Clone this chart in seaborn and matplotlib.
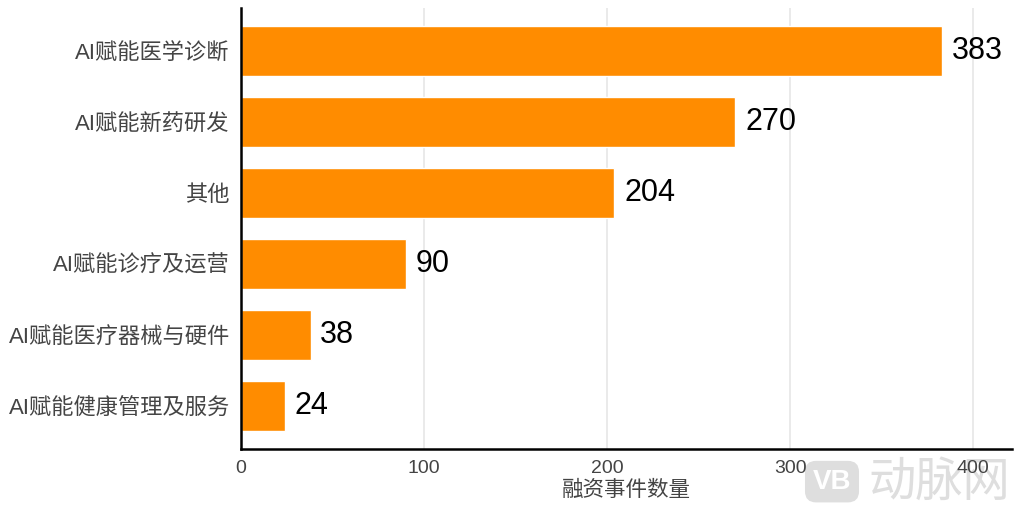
import matplotlib
matplotlib.use("Agg")
import matplotlib.pyplot as plt
import seaborn as sns
import pandas as pd

# data
categories = ["AI赋能医学诊断", "AI赋能新药研发", "其他", "AI赋能诊疗及运营",
              "AI赋能医疗器械与硬件", "AI赋能健康管理及服务"]
counts = [383, 270, 204, 90, 38, 24]
xticks = [0, 100, 200, 300, 400]

df = pd.DataFrame({"cat": categories, "n": counts})

sns.set_style("white")
plt.rcParams['font.family'] = ['Liberation Sans', 'Noto Sans CJK SC', 'DejaVu Sans']

fig = plt.figure(figsize=(10.24, 5.19), dpi=100)
ax = fig.add_axes([0.2354, 0.1349, 0.7526, 0.8497])
ax.patch.set_alpha(0)

sns.barplot(data=df, x="n", y="cat", orient="h", color="#FF8C00",
            saturation=1, width=0.7, ax=ax)

ax.set_xlim(0, 421)
ax.set_ylim(5.6, -0.6)
ax.set_xticks(xticks)
ax.xaxis.grid(True, color="#e6e6e6", linewidth=1.2)
ax.set_axisbelow(True)
ax.tick_params(axis="x", length=0, labelsize=14, colors="#444444", pad=8)
ax.tick_params(axis="y", length=0, labelsize=16, colors="#444444", pad=8)
ax.set_ylabel("")
ax.set_xlabel("融资事件数量", fontsize=15.5, color="#444444", labelpad=2)

for s in ["top", "right"]:
    ax.spines[s].set_visible(False)
for s in ["left", "bottom"]:
    ax.spines[s].set_color("black")
    ax.spines[s].set_linewidth(1.8)

ax.bar_label(ax.containers[0], padding=7, fontsize=22, color="black")

# watermark, behind the axes
fig.text(0.8125, 0.072, "VB", fontsize=20, color="white", fontweight="bold",
         ha="center", va="center", zorder=-1,
         bbox=dict(boxstyle="round,pad=0.28,rounding_size=0.4", fc="#dedede", ec="none"))
fig.text(0.917, 0.07, "动脉网", fontsize=34, color="#dedede", ha="center", va="center",
         family=["Noto Sans CJK SC"], zorder=-1)

fig.savefig("out.png", dpi=100)
